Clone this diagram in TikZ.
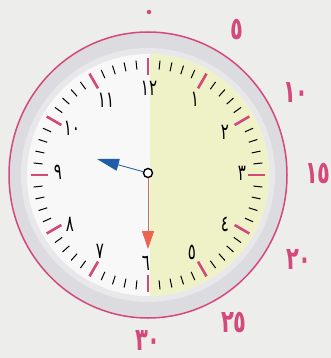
\documentclass[tikz,border=0pt]{standalone}
\usepackage{fontspec}
\usepackage{graphicx}
\usetikzlibrary{arrows.meta,calc}
\newfontfamily\arfont[Script=Arabic]{DejaVu Sans}
\definecolor{bgc}{HTML}{EDEDEB}
\definecolor{pinkc}{HTML}{D4497C}
\definecolor{bezelc}{HTML}{DCDBDF}
\definecolor{bezelin}{HTML}{E8E8EA}
\definecolor{facec}{HTML}{F8F8F8}
\definecolor{yellowc}{HTML}{EEF2C6}
\definecolor{hourc}{HTML}{1F5DA8}
\definecolor{minc}{HTML}{EC6450}
\newcommand{\tallin}[1]{\scalebox{1}[1.5]{#1}}
\tikzset{
  innum/.style={font=\arfont\fontsize{15}{15}\selectfont, text=black, inner sep=0pt},
  outnum/.style={font=\arfont\bfseries\fontsize{21}{21}\selectfont, text=pinkc, inner sep=0pt},
  majortick/.style={pinkc, line width=2.6pt},
  minortick/.style={black, line width=1pt},
}
\begin{document}
\begin{tikzpicture}[x=1pt,y=-1pt]
\useasboundingbox (0,0) rectangle (331,358);
\fill[bgc] (0,0) rectangle (331,358);
\coordinate (c) at (148,175);
% bezel
\fill[bezelc] (c) ellipse[x radius=139pt, y radius=143pt];
\fill[bezelin] (c) circle[radius=127pt];
\fill[facec] (c) circle[radius=121pt];
\begin{scope}
  \clip (c) circle[radius=121pt];
  \fill[yellowc] (150,40) rectangle (290,310);
\end{scope}
\draw[pinkc, line width=1.5pt] (c) ellipse[x radius=139pt, y radius=143pt];
% ticks
\foreach \a in {0,6,...,354} {
  \draw[minortick] ($(c)+(\a-90:106)$) -- ($(c)+(\a-90:115)$);
}
\foreach \a in {0,30,...,330} {
  \draw[majortick] ($(c)+(\a-90:100)$) -- ($(c)+(\a-90:117)$);
}
% inner numbers
\node[innum] (n12) at (149,88) {\tallin{١٢}};
\node[innum] (n1) at (195,99) {\tallin{١}};
\node[innum] (n2) at (225,132) {\tallin{٢}};
\node[innum] (n3) at (242,173) {\tallin{٣}};
\node[innum] (n4) at (225,224) {\tallin{٤}};
\node[innum] (n5) at (192,252) {\tallin{٥}};
\node[innum] (n6) at (146,263) {\tallin{٦}};
\node[innum] (n7) at (100,251) {\tallin{٧}};
\node[innum] (n8) at (70,224) {\tallin{٨}};
\node[innum] (n9) at (58,172) {\tallin{٩}};
\node[innum] (n10) at (72,128) {\tallin{١٠}};
\node[innum] (n11) at (106,100) {\tallin{١١}};
% outer minute numbers
\node[circle, fill=pinkc, inner sep=0pt, minimum size=4.5pt] (m0) at (149,12) {};
\node[outnum] (m5) at (237,30) {\tallin{٥}};
\node[outnum] (m10) at (296,93) {\tallin{١٠}};
\node[outnum] (m15) at (318,174) {\tallin{١٥}};
\node[outnum] (m20) at (299,260) {\tallin{٢٠}};
\node[outnum] (m25) at (234,323) {\tallin{٢٥}};
\node[outnum] (m30) at (148,340) {\tallin{٣٠}};
% hands
\node[circle, draw=black, line width=1.4pt, fill=white, minimum size=9pt, inner sep=0pt] (hub) at (148,173) {};
\coordinate (htip) at (97,159);
\coordinate (mtip) at (148,249);
\draw[hourc!80!gray, line width=0.9pt, -{Triangle[length=22pt,width=12pt,fill=hourc,color=hourc]}] (hub) -- (htip);
\draw[minc!60!gray, line width=0.9pt, -{Triangle[length=18pt,width=12pt,fill=minc,color=minc]}] (hub) -- (mtip);
\end{tikzpicture}
\end{document}
